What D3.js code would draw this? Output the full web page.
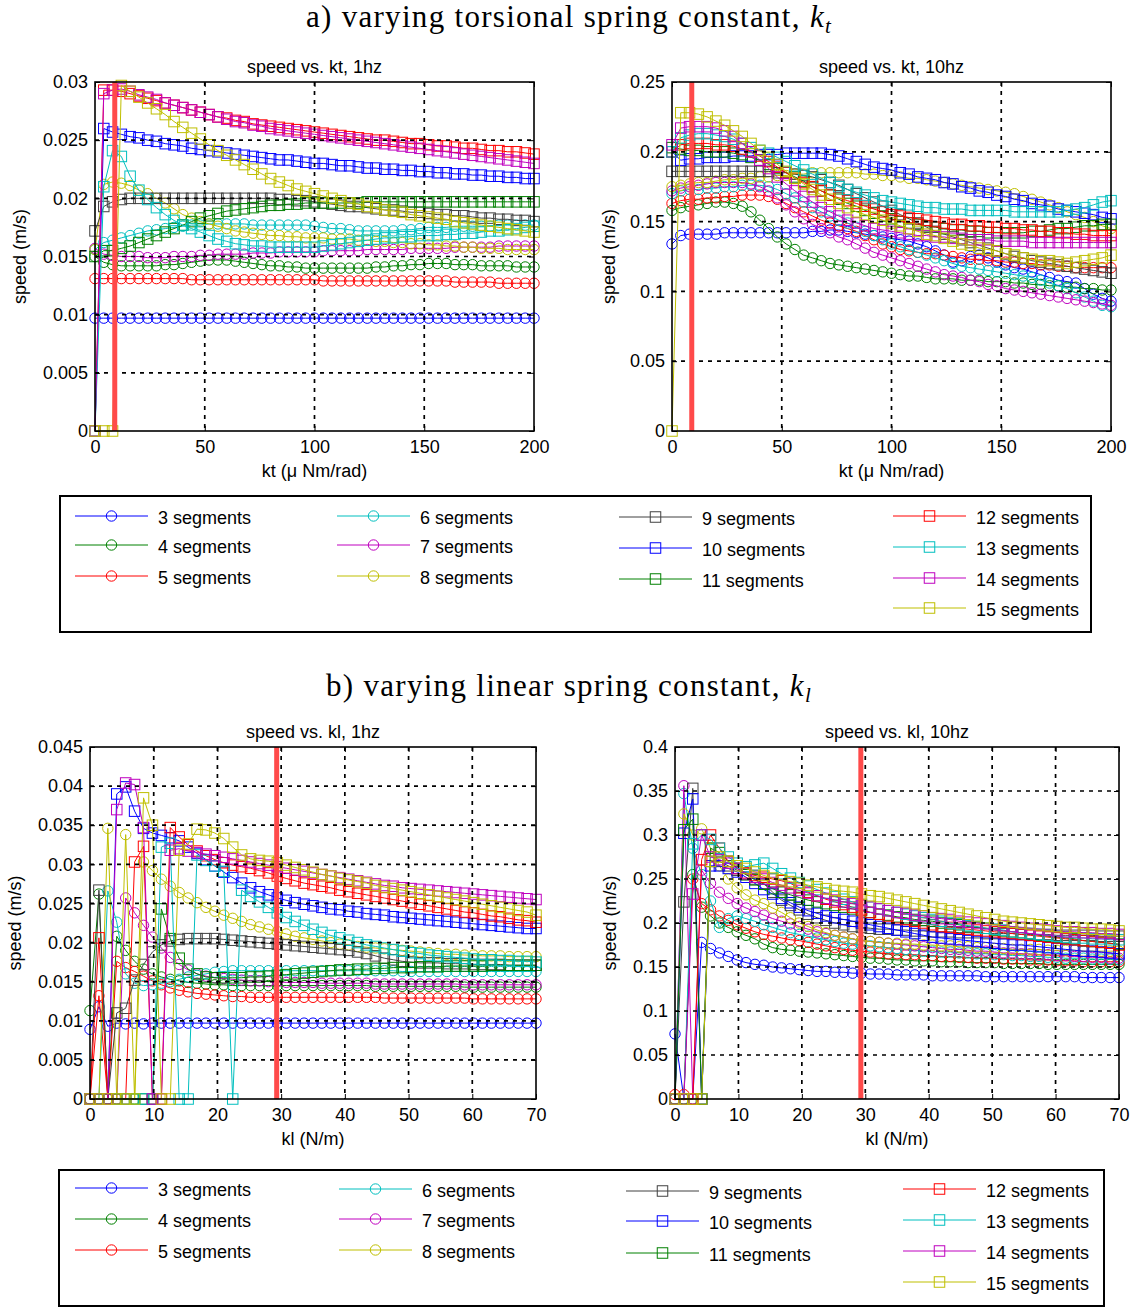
<!DOCTYPE html>
<html><head><meta charset="utf-8">
<script src="https://cdn.jsdelivr.net/npm/d3@7"></script>
<style>
body{margin:0;background:#fff}
svg{display:block}
text{font-family:"Liberation Sans",Arial,Helvetica,sans-serif;fill:#000}
.serif{font-family:"Liberation Serif","Times New Roman",serif}
</style>
</head><body>
<svg id="chart" width="1139" height="1308"></svg>
<script>
// ---------------- data ----------------
const kt = [0,4,8,12,16,20,24,28,32,36,40,44,48,52,56,60,64,68,72,76,80,84,88,92,96,100,104,108,112,116,120,124,128,132,136,140,144,148,152,156,160,164,168,172,176,180,184,188,192,196,200];
const kl = [0,1.4,2.8,4.2,5.6,7,8.4,9.8,11.2,12.6,14,15.4,16.8,18.2,19.6,21,22.4,23.8,25.2,26.6,28,29.4,30.8,32.2,33.6,35,36.4,37.8,39.2,40.6,42,43.4,44.8,46.2,47.6,49,50.4,51.8,53.2,54.6,56,57.4,58.8,60.2,61.6,63,64.4,65.8,67.2,68.6,70];
const seriesNames = ["3 segments","4 segments","5 segments","6 segments","7 segments","8 segments","9 segments","10 segments","11 segments","12 segments","13 segments","14 segments","15 segments"];

const ktTicks = [0,50,100,150,200];
const ktTickLabels = ["0","50","100","150","200"];
const klTicks = [0,10,20,30,40,50,60,70];
const klTickLabels = ["0","10","20","30","40","50","60","70"];
const tlYTicks = [0,0.005,0.01,0.015,0.02,0.025,0.03];
const tlYLabels = ["0","0.005","0.01","0.015","0.02","0.025","0.03"];
const trYTicks = [0,0.05,0.1,0.15,0.2,0.25];
const trYLabels = ["0","0.05","0.1","0.15","0.2","0.25"];
const blYTicks = [0,0.005,0.01,0.015,0.02,0.025,0.03,0.035,0.04,0.045];
const blYLabels = ["0","0.005","0.01","0.015","0.02","0.025","0.03","0.035","0.04","0.045"];
const brYTicks = [0,0.05,0.1,0.15,0.2,0.25,0.3,0.35,0.4];
const brYLabels = ["0","0.05","0.1","0.15","0.2","0.25","0.3","0.35","0.4"];
const ktMark = 9;
const klMark = 29.3;

// speed vs kt, 1 Hz
const tl3 = [.0097,.0097,.0097,.0097,.0097,.0097,.0097,.0097,.0097,.0097,
.0097,.0097,.0097,.0097,.0097,.0097,.0097,.0097,.0097,.0097,
.0097,.0097,.0097,.0097,.0097,.0097,.0097,.0097,.0097,.0097,
.0097,.0097,.0097,.0097,.0097,.0097,.0097,.0097,.0097,.0097,
.0097,.0097,.0097,.0097,.0097,.0097,.0097,.0097,.0097,.0097,.0097];
const tl4 = [.0150,.0145,.0143,.0142,.0142,.0142,.0142,.0142,.0143,.0143,
.0144,.0145,.0146,.0147,.0147,.0147,.0146,.0145,.0144,.0143,
.0142,.0142,.0141,.0141,.0140,.0140,.0140,.0140,.0140,.0140,
.0140,.0140,.0141,.0141,.0142,.0142,.0143,.0143,.0144,.0144,
.0144,.0143,.0143,.0143,.0142,.0142,.0142,.0142,.0141,.0141,.0141];
const tl5 = [.0131,.0131,.0131,.0131,.0131,.0131,.0131,.0131,.0131,.0131,
.0131,.0130,.0130,.0130,.0130,.0130,.0130,.0130,.0130,.0130,
.0130,.0130,.0130,.0130,.0130,.0130,.0129,.0129,.0129,.0129,
.0129,.0129,.0129,.0129,.0129,.0129,.0129,.0129,.0129,.0129,
.0129,.0128,.0128,.0128,.0128,.0128,.0127,.0127,.0127,.0127,.0127];
const tl6 = [.0156,.0162,.0164,.0166,.0168,.0170,.0172,.0173,.0174,.0175,
.0176,.0177,.0177,.0178,.0178,.0178,.0178,.0178,.0177,.0177,
.0177,.0177,.0177,.0177,.0177,.0176,.0175,.0174,.0174,.0173,
.0172,.0172,.0172,.0172,.0172,.0173,.0173,.0174,.0175,.0175,
.0175,.0176,.0176,.0176,.0176,.0176,.0177,.0177,.0177,.0177,.0177];
const tl7 = [.0157,.0152,.0151,.0150,.0150,.0150,.0149,.0149,.0149,.0150,
.0150,.0150,.0151,.0151,.0152,.0152,.0152,.0152,.0153,.0153,
.0153,.0154,.0154,.0154,.0154,.0154,.0155,.0155,.0155,.0155,
.0155,.0156,.0156,.0156,.0156,.0156,.0157,.0157,.0157,.0157,
.0157,.0158,.0158,.0158,.0158,.0158,.0159,.0159,.0159,.0159,.0159];
const tl8 = [.0156,.0212,.0214,.0213,.0211,.0207,.0204,.0200,.0196,.0191,
.0186,.0183,.0180,.0178,.0176,.0174,.0172,.0171,.0170,.0169,
.0168,.0168,.0167,.0167,.0166,.0166,.0166,.0165,.0165,.0165,
.0164,.0164,.0163,.0163,.0162,.0162,.0161,.0161,.0160,.0160,
.0159,.0159,.0158,.0158,.0157,.0157,.0157,.0156,.0156,.0156,.0156];
const tl9 = [.0172,.0193,.0197,.0199,.0200,.0200,.0200,.0200,.0200,.0200,
.0200,.0200,.0200,.0200,.0200,.0200,.0200,.0200,.0200,.0200,
.0200,.0199,.0199,.0198,.0198,.0197,.0196,.0195,.0194,.0193,
.0193,.0192,.0191,.0190,.0190,.0189,.0188,.0188,.0187,.0186,
.0186,.0185,.0185,.0184,.0183,.0183,.0182,.0182,.0181,.0181,.0180];
const tl10 = [0,.0260,.0257,.0255,.0253,.0252,.0250,.0249,.0247,.0246,
.0245,.0243,.0242,.0241,.0240,.0239,.0238,.0237,.0236,.0235,
.0234,.0233,.0233,.0232,.0231,.0230,.0230,.0229,.0228,.0228,
.0227,.0226,.0226,.0225,.0225,.0224,.0224,.0223,.0223,.0222,
.0222,.0221,.0221,.0220,.0220,.0219,.0219,.0218,.0218,.0217,.0217];
const tl11 = [.0150,.0155,.0155,.0157,.0159,.0162,.0165,.0168,.0171,.0174,
.0177,.0180,.0183,.0185,.0187,.0189,.0190,.0191,.0192,.0193,
.0194,.0194,.0195,.0195,.0196,.0196,.0196,.0196,.0196,.0196,
.0196,.0197,.0197,.0197,.0197,.0197,.0197,.0197,.0197,.0197,
.0197,.0197,.0197,.0197,.0197,.0197,.0197,.0197,.0197,.0197,.0197];
const tl12 = [0,.0293,.0293,.0292,.0290,.0288,.0286,.0284,.0282,.0280,
.0278,.0276,.0274,.0272,.0270,.0269,.0267,.0266,.0264,.0263,
.0262,.0261,.0260,.0259,.0258,.0257,.0256,.0255,.0254,.0253,
.0252,.0251,.0250,.0250,.0249,.0248,.0247,.0247,.0246,.0245,
.0245,.0244,.0243,.0243,.0242,.0241,.0241,.0240,.0240,.0239,.0238];
const tl13 = [0,.0210,.0241,.0236,.0219,.0207,.0199,.0192,.0186,.0181,
.0177,.0174,.0171,.0168,.0165,.0163,.0161,.0160,.0159,.0159,
.0158,.0158,.0158,.0158,.0158,.0158,.0159,.0160,.0161,.0162,
.0163,.0164,.0165,.0166,.0166,.0167,.0167,.0168,.0168,.0168,
.0169,.0169,.0170,.0170,.0171,.0172,.0172,.0173,.0174,.0175,.0176];
const tl14 = [0,.0290,.0293,.0294,.0292,.0289,.0287,.0285,.0282,.0280,
.0278,.0276,.0274,.0272,.0270,.0268,.0266,.0265,.0263,.0262,
.0260,.0259,.0258,.0257,.0256,.0255,.0254,.0253,.0252,.0251,
.0250,.0249,.0248,.0247,.0246,.0245,.0244,.0243,.0242,.0241,
.0240,.0239,.0238,.0237,.0236,.0235,.0234,.0233,.0232,.0231,.0230];
const tl15 = [0,0,0,.0297,.0292,.0287,.0282,.0277,.0272,.0266,
.0261,.0256,.0251,.0246,.0241,.0237,.0233,.0229,.0225,.0221,
.0217,.0214,.0211,.0208,.0206,.0204,.0202,.0200,.0198,.0196,
.0195,.0193,.0192,.0190,.0189,.0188,.0186,.0185,.0184,.0183,
.0182,.0180,.0179,.0178,.0177,.0176,.0175,.0174,.0173,.0172,.0171];

// speed vs kt, 10 Hz
const tr3 = [.134,.140,.141,.141,.141,.141,.142,.142,.142,.142,
.142,.142,.142,.142,.142,.142,.143,.143,.144,.144,
.143,.142,.141,.140,.139,.138,.137,.136,.134,.132,
.129,.126,.121,.122,.125,.126,.124,.121,.119,.117,
.116,.114,.112,.110,.108,.107,.106,.102,.098,.095,.093];
const tr4 = [.158,.160,.161,.162,.163,.164,.164,.163,.161,.157,
.151,.145,.139,.134,.130,.126,.124,.122,.120,.119,
.118,.117,.116,.115,.114,.113,.112,.111,.111,.110,
.109,.109,.109,.108,.108,.108,.107,.107,.107,.106,
.106,.105,.105,.104,.104,.103,.103,.102,.102,.101,.101];
const tr5 = [.163,.165,.166,.166,.167,.167,.168,.168,.169,.169,
.169,.168,.166,.163,.160,.157,.154,.151,.149,.147,
.145,.143,.140,.137,.134,.132,.130,.129,.128,.127,
.127,.126,.125,.124,.123,.123,.122,.122,.121,.121,
.120,.120,.119,.119,.118,.118,.117,.117,.117,.117,.117];
const tr6 = [.170,.172,.173,.173,.174,.174,.175,.175,.176,.176,
.176,.175,.173,.170,.167,.164,.160,.157,.154,.151,
.149,.146,.143,.140,.137,.134,.132,.130,.128,.126,
.124,.122,.120,.118,.117,.116,.115,.114,.113,.112,
.111,.110,.108,.106,.104,.102,.099,.096,.093,.090,.089];
const tr7 = [.172,.174,.175,.176,.177,.178,.178,.178,.178,.177,
.175,.172,.167,.162,.157,.152,.148,.145,.142,.139,
.137,.134,.131,.128,.126,.124,.122,.120,.118,.116,
.114,.112,.111,.110,.108,.107,.105,.104,.102,.101,
.100,.099,.098,.097,.096,.095,.094,.093,.092,.091,.090];
const tr8 = [.175,.176,.177,.178,.178,.179,.180,.180,.181,.181,
.182,.182,.183,.183,.184,.184,.185,.185,.185,.185,
.185,.185,.184,.184,.183,.183,.182,.181,.181,.180,
.179,.178,.177,.176,.175,.174,.173,.172,.171,.170,
.168,.166,.164,.162,.160,.157,.155,.153,.150,.147,.145];
const tr9 = [.186,.186,.186,.186,.186,.186,.186,.186,.186,.186,
.186,.186,.185,.185,.184,.183,.182,.180,.178,.176,
.173,.170,.167,.164,.161,.158,.155,.152,.149,.146,
.143,.141,.139,.137,.135,.133,.131,.129,.127,.125,
.124,.122,.121,.120,.119,.118,.117,.116,.115,.114,.113];
const tr10 = [.200,.194,.195,.195,.196,.196,.196,.197,.197,.197,
.198,.198,.198,.199,.199,.199,.199,.199,.198,.197,
.195,.193,.191,.189,.188,.187,.185,.184,.182,.181,
.180,.178,.177,.175,.174,.172,.171,.169,.168,.166,
.165,.163,.162,.161,.159,.158,.157,.156,.155,.153,.152];
const tr11 = [.203,.202,.201,.201,.200,.200,.200,.199,.198,.196,
.194,.191,.188,.185,.182,.179,.175,.172,.169,.166,
.163,.161,.158,.156,.154,.152,.150,.149,.148,.147,
.146,.145,.144,.144,.143,.143,.142,.142,.142,.142,
.142,.143,.143,.144,.145,.145,.146,.147,.147,.148,.148];
const tr12 = [.200,.205,.206,.206,.206,.205,.205,.204,.202,.200,
.197,.193,.189,.185,.181,.178,.175,.172,.169,.167,
.165,.163,.161,.159,.157,.155,.154,.153,.152,.151,
.150,.149,.148,.148,.147,.147,.146,.146,.145,.145,
.144,.144,.143,.143,.142,.142,.141,.141,.140,.140,.140];
const tr13 = [.200,.210,.212,.213,.213,.212,.211,.209,.206,.203,
.201,.199,.196,.193,.190,.187,.184,.181,.178,.175,
.173,.171,.169,.167,.165,.164,.163,.162,.161,.160,
.160,.159,.159,.159,.158,.158,.158,.158,.158,.157,
.157,.157,.157,.157,.157,.158,.159,.160,.162,.164,.165];
const tr14 = [.205,.217,.218,.218,.218,.217,.215,.211,.206,.200,
.194,.188,.182,.177,.172,.168,.164,.160,.157,.154,
.151,.149,.147,.145,.144,.143,.142,.141,.140,.140,
.139,.139,.138,.138,.137,.137,.137,.136,.136,.136,
.136,.135,.135,.135,.135,.135,.135,.135,.135,.135,.135];
const tr15 = [0,.228,.228,.227,.225,.222,.219,.215,.211,.206,
.201,.196,.191,.186,.181,.177,.173,.169,.166,.163,
.160,.157,.155,.153,.151,.149,.147,.145,.143,.141,
.140,.138,.136,.134,.133,.131,.130,.129,.127,.126,
.124,.123,.122,.122,.121,.120,.121,.122,.123,.124,.126];

// speed vs kl, 1 Hz
const bl3 = [.0089,.0118,.0093,.0097,.0096,.0097,.0096,.0097,.0097,.0097,
.0097,.0097,.0097,.0097,.0097,.0097,.0097,.0097,.0097,.0097,
.0097,.0097,.0097,.0097,.0097,.0097,.0097,.0097,.0097,.0097,
.0097,.0097,.0097,.0097,.0097,.0097,.0097,.0097,.0097,.0097,
.0097,.0097,.0097,.0097,.0097,.0097,.0097,.0097,.0097,.0097,.0097];
const bl4 = [.0113,.0262,0,.0208,.0190,.0176,.0166,.0160,.0156,.0153,
.0151,.0149,.0148,.0147,.0146,.0146,.0145,.0145,.0145,.0145,
.0145,.0145,.0145,.0145,.0145,.0145,.0145,.0145,.0145,.0145,
.0145,.0145,.0144,.0144,.0144,.0144,.0144,.0144,.0144,.0144,
.0144,.0144,.0143,.0143,.0143,.0143,.0143,.0143,.0143,.0143,.0143];
const bl5 = [0,.0132,0,.0176,.0168,.0163,.0157,.0151,.0146,.0142,
.0139,.0137,.0135,.0134,.0133,.0132,.0131,.0131,.0130,.0130,
.0130,.0130,.0130,.0130,.0130,.0130,.0130,.0130,.0130,.0130,
.0130,.0130,.0130,.0129,.0129,.0129,.0129,.0129,.0129,.0129,
.0129,.0129,.0129,.0128,.0128,.0128,.0128,.0128,.0128,.0128,.0128];
const bl6 = [0,0,.0266,.0226,.0160,.0148,.0145,.0146,.0148,.0150,
.0153,.0156,.0158,.0160,.0162,.0163,.0164,.0164,.0164,.0164,
.0164,.0164,.0164,.0164,.0164,.0164,.0164,.0164,.0164,.0164,
.0164,.0164,.0164,.0164,.0164,.0163,.0163,.0163,.0163,.0163,
.0163,.0163,.0163,.0163,.0163,.0163,.0163,.0163,.0163,.0163,.0163];
const bl7 = [0,0,0,0,.0257,.0238,.0222,.0207,.0193,.0181,
.0172,.0165,.0160,.0157,.0155,.0154,.0153,.0152,.0151,.0151,
.0150,.0150,.0149,.0149,.0149,.0149,.0148,.0148,.0148,.0148,
.0148,.0148,.0147,.0147,.0147,.0147,.0147,.0147,.0147,.0147,
.0147,.0147,.0146,.0146,.0146,.0146,.0146,.0146,.0146,.0146,.0146];
const bl8 = [0,0,.0346,0,.0338,0,.0303,.0292,.0281,.0272,
.0264,.0257,.0251,.0245,.0240,.0235,.0231,.0227,.0223,.0220,
.0217,.0214,.0211,.0208,.0206,.0204,.0202,.0200,.0198,.0197,
.0195,.0194,.0193,.0192,.0191,.0190,.0189,.0188,.0187,.0186,
.0185,.0185,.0184,.0184,.0183,.0183,.0183,.0182,.0182,.0182,.0182];
const bl9 = [0,.0267,0,.0110,.0116,.0152,.0172,.0188,.0197,.0202,
.0204,.0205,.0205,.0205,.0205,.0204,.0203,.0202,.0201,.0200,
.0199,.0198,.0197,.0196,.0195,.0194,.0193,.0192,.0191,.0190,
.0188,.0186,.0183,.0180,.0178,.0176,.0175,.0174,.0174,.0174,
.0173,.0173,.0173,.0172,.0172,.0172,.0172,.0171,.0171,.0171,.0171];
const bl10 = [0,0,0,.0390,.0399,.0368,.0346,.0340,.0337,.0334,
.0330,.0322,.0314,.0306,.0298,.0290,.0283,.0276,.0270,.0265,
.0261,.0257,.0254,.0251,.0249,.0247,.0245,.0243,.0242,.0240,
.0239,.0237,.0236,.0235,.0233,.0232,.0231,.0230,.0229,.0228,
.0227,.0226,.0225,.0224,.0223,.0222,.0221,.0220,.0219,.0218,.0218];
const bl11 = [0,0,0,0,0,0,0,0,.0243,.0205,
.0180,.0166,.0160,.0156,.0155,.0155,.0155,.0155,.0156,.0156,
.0157,.0158,.0159,.0160,.0161,.0162,.0163,.0164,.0165,.0165,
.0166,.0166,.0167,.0167,.0168,.0168,.0168,.0169,.0169,.0169,
.0170,.0170,.0170,.0170,.0170,.0171,.0171,.0171,.0171,.0171,.0171];
const bl12 = [0,.0206,0,0,0,.0303,.0323,0,0,.0347,
.0335,.0325,.0317,.0311,.0306,.0302,.0299,.0297,.0295,.0292,
.0289,.0285,.0282,.0279,.0276,.0274,.0272,.0270,.0267,.0265,
.0263,.0261,.0259,.0257,.0255,.0253,.0251,.0249,.0247,.0245,
.0243,.0241,.0239,.0238,.0236,.0234,.0233,.0231,.0229,.0228,.0226];
const bl13 = [0,0,0,0,0,0,0,0,.0322,.0327,
0,0,.0312,.0305,.0298,.0291,0,.0267,.0259,.0252,
.0245,.0238,.0232,.0227,.0222,.0217,.0213,.0209,.0206,.0203,
.0200,.0197,.0195,.0193,.0191,.0189,.0187,.0186,.0184,.0183,
.0182,.0181,.0180,.0179,.0178,.0178,.0177,.0177,.0176,.0176,.0175];
const bl14 = [0,0,0,.0370,.0404,.0402,.0347,0,0,.0318,
.0320,.0317,.0315,.0313,.0311,.0309,.0307,.0305,.0303,.0301,
.0299,.0297,.0295,.0293,.0291,.0289,.0287,.0285,.0283,.0281,
.0279,.0277,.0275,.0273,.0272,.0270,.0269,.0268,.0267,.0266,
.0265,.0264,.0263,.0262,.0261,.0260,.0259,.0258,.0257,.0256,.0255];
const bl15 = [0,0,0,0,0,0,.0385,.0350,0,0,
.0318,.0326,.0345,.0344,.0340,.0333,.0322,.0312,.0307,.0305,
.0304,.0302,.0299,.0296,.0293,.0290,.0287,.0285,.0282,.0280,
.0278,.0276,.0273,.0271,.0269,.0267,.0265,.0263,.0261,.0259,
.0257,.0255,.0253,.0251,.0249,.0247,.0245,.0243,.0241,.0239,.0235];

// speed vs kl, 10 Hz
const br3 = [.074,0,0,.178,.171,.166,.162,.158,.155,.153,
.152,.150,.149,.148,.147,.146,.145,.145,.144,.144,
.143,.143,.142,.142,.142,.141,.141,.141,.141,.140,
.140,.140,.140,.140,.140,.139,.139,.139,.139,.139,
.139,.139,.139,.139,.139,.139,.138,.138,.138,.138,.138];
const br4 = [0,0,.255,.218,.208,.200,.195,.190,.186,.182,
.176,.172,.170,.169,.168,.167,.166,.165,.164,.163,
.162,.161,.160,.160,.159,.158,.158,.157,.157,.157,
.156,.156,.156,.155,.155,.155,.155,.154,.154,.154,
.154,.154,.153,.153,.153,.153,.153,.153,.153,.153,.153];
const br5 = [.005,.005,.250,.222,.215,.208,.203,.198,.194,.190,
.187,.185,.183,.181,.180,.178,.176,.174,.172,.170,
.169,.168,.167,.166,.165,.165,.164,.164,.163,.163,
.162,.162,.161,.161,.160,.160,.160,.159,.159,.159,
.158,.158,.158,.157,.157,.157,.156,.156,.156,.156,.156];
const br6 = [0,.347,.285,.255,.225,.195,.205,.208,.205,.202,
.198,.195,.192,.189,.187,.185,.183,.181,.179,.177,
.176,.175,.174,.173,.172,.171,.170,.169,.168,.168,
.167,.167,.166,.166,.165,.165,.164,.164,.163,.163,
.162,.162,.161,.161,.160,.160,.160,.159,.159,.159,.158];
const br7 = [0,.356,0,.260,.245,.235,.228,.222,.217,.213,
.209,.205,.202,.199,.196,.193,.190,.188,.186,.184,
.182,.180,.179,.178,.177,.176,.175,.174,.173,.172,
.171,.170,.170,.169,.168,.168,.167,.166,.166,.165,
.165,.164,.164,.163,.163,.162,.162,.161,.161,.160,.160];
const br8 = [0,.324,.300,.307,.285,.265,.250,.240,.232,.226,
.222,.217,.212,.206,.200,.196,.192,.189,.186,.184,
.182,.180,.179,.178,.177,.177,.176,.176,.175,.175,
.174,.174,.173,.173,.172,.172,.171,.171,.170,.170,
.170,.170,.169,.169,.169,.169,.168,.168,.168,.168,.168];
const br9 = [0,.224,.353,0,.270,.270,.265,.260,.255,.250,
.245,.235,.226,.220,.215,.210,.206,.203,.200,.198,
.196,.195,.194,.193,.193,.192,.192,.191,.191,.190,
.190,.190,.189,.189,.189,.188,.188,.188,.188,.187,
.187,.187,.187,.186,.186,.186,.186,.186,.185,.185,.185];
const br10 = [0,.302,.341,0,.265,.265,.262,.258,.252,.245,
.238,.233,.228,.223,.218,.214,.211,.208,.206,.204,
.202,.200,.198,.196,.194,.192,.190,.188,.186,.184,
.183,.182,.181,.180,.179,.178,.177,.176,.175,.175,
.174,.173,.172,.171,.170,.169,.168,.168,.167,.166,.165];
const br11 = [0,.306,.318,0,.285,.280,.270,.262,.255,.249,
.244,.239,.235,.232,.229,.226,.224,.222,.220,.218,
.216,.214,.212,.210,.209,.207,.206,.204,.203,.202,
.200,.199,.198,.196,.195,.194,.192,.191,.190,.189,
.188,.186,.185,.184,.183,.182,.180,.179,.178,.177,.176];
const br12 = [0,0,0,.272,.300,.285,.270,.262,.257,.254,
.252,.250,.248,.245,.240,.235,.231,.227,.224,.221,
.218,.215,.212,.210,.208,.206,.204,.202,.200,.198,
.196,.195,.194,.193,.192,.191,.190,.189,.188,.187,
.186,.185,.184,.183,.182,.181,.180,.179,.178,.177,.175];
const br13 = [0,0,.290,.300,.295,.285,.275,.268,.264,.266,
.268,.262,.256,.251,.246,.242,.238,.234,.230,.227,
.224,.221,.218,.216,.214,.212,.210,.208,.206,.204,
.202,.200,.199,.197,.196,.194,.193,.192,.190,.189,
.188,.187,.186,.185,.184,.183,.183,.182,.182,.181,.181];
const br14 = [0,0,.233,.300,.275,.272,.268,.262,.256,.252,
.250,.246,.243,.240,.237,.234,.231,.228,.226,.224,
.222,.220,.218,.216,.214,.212,.211,.209,.208,.206,
.205,.204,.202,.201,.200,.199,.198,.197,.196,.195,
.194,.193,.192,.191,.190,.190,.189,.189,.188,.188,.187];
const br15 = [0,0,0,0,.270,.275,.270,.265,.262,.258,
.254,.251,.249,.247,.245,.243,.241,.239,.237,.236,
.235,.233,.231,.230,.228,.226,.224,.222,.220,.218,
.216,.214,.212,.210,.208,.206,.204,.202,.201,.200,
.199,.198,.197,.196,.195,.195,.194,.193,.193,.192,.191];

// ---------------- styles ----------------
const colors = ["#0000ff","#008000","#ff0000","#00bfbf","#bf00bf","#bfbf00","#404040","#0000ff","#008000","#ff0000","#00bfbf","#bf00bf","#bfbf00"];
const shapes = ["circle","circle","circle","circle","circle","circle","square","square","square","square","square","square","square"];
const markR = 5.2, markS = 10.5;
const FS = 18;

const svg = d3.select("#chart");

const panels = [
  {box:[95,534,82,431], xs:kt, xDom:[0,200], yDom:[0,0.03], xt:ktTicks, xtl:ktTickLabels, yt:tlYTicks, ytl:tlYLabels,
   title:"speed vs. kt, 1hz", xlab:"kt (\u03bc Nm/rad)", ylabX:20, mark:ktMark, data:[tl3,tl4,tl5,tl6,tl7,tl8,tl9,tl10,tl11,tl12,tl13,tl14,tl15]},
  {box:[672,1111,82,431], xs:kt, xDom:[0,200], yDom:[0,0.25], xt:ktTicks, xtl:ktTickLabels, yt:trYTicks, ytl:trYLabels,
   title:"speed vs. kt, 10hz", xlab:"kt (\u03bc Nm/rad)", ylabX:609, mark:ktMark, data:[tr3,tr4,tr5,tr6,tr7,tr8,tr9,tr10,tr11,tr12,tr13,tr14,tr15]},
  {box:[90,536,747,1099], xs:kl, xDom:[0,70], yDom:[0,0.045], xt:klTicks, xtl:klTickLabels, yt:blYTicks, ytl:blYLabels,
   title:"speed vs. kl, 1hz", xlab:"kl (N/m)", ylabX:15, mark:klMark, data:[bl3,bl4,bl5,bl6,bl7,bl8,bl9,bl10,bl11,bl12,bl13,bl14,bl15]},
  {box:[675,1119,747,1099], xs:kl, xDom:[0,70], yDom:[0,0.4], xt:klTicks, xtl:klTickLabels, yt:brYTicks, ytl:brYLabels,
   title:"speed vs. kl, 10hz", xlab:"kl (N/m)", ylabX:610, mark:klMark, data:[br3,br4,br5,br6,br7,br8,br9,br10,br11,br12,br13,br14,br15]}
];

function drawMarker(g, shape, cx, cy, color) {
  if (shape === "circle") {
    g.append("circle").attr("cx",cx).attr("cy",cy).attr("r",markR)
      .attr("fill","none").attr("stroke",color).attr("stroke-width",1);
  } else {
    g.append("rect").attr("x",cx-markS/2).attr("y",cy-markS/2).attr("width",markS).attr("height",markS)
      .attr("fill","none").attr("stroke",color).attr("stroke-width",1);
  }
}

panels.forEach(p => {
  const [L,R,T,B] = p.box;
  const x = d3.scaleLinear().domain(p.xDom).range([L,R]);
  const y = d3.scaleLinear().domain(p.yDom).range([B,T]);
  const g = svg.append("g");

  // series
  p.data.forEach((vals,k) => {
    const pts = p.xs.map((xv,i) => [xv, vals[i]]);
    g.append("path").datum(pts)
      .attr("d", d3.line().x(d => x(d[0])).y(d => y(d[1])))
      .attr("fill","none").attr("stroke",colors[k]).attr("stroke-width",1);
    const mg = g.append("g");
    if (shapes[k] === "circle") {
      mg.selectAll("circle").data(pts).join("circle")
        .attr("cx", d => x(d[0])).attr("cy", d => y(d[1])).attr("r", markR)
        .attr("fill","none").attr("stroke",colors[k]).attr("stroke-width",1);
    } else {
      mg.selectAll("rect").data(pts).join("rect")
        .attr("x", d => x(d[0]) - markS/2).attr("y", d => y(d[1]) - markS/2)
        .attr("width", markS).attr("height", markS)
        .attr("fill","none").attr("stroke",colors[k]).attr("stroke-width",1);
    }
  });

  // grid (dotted, on top like the original)
  const gx = p.xt.filter(v => v > p.xDom[0] && v < p.xDom[1]);
  const gy = p.yt.filter(v => v > p.yDom[0] && v < p.yDom[1]);
  g.selectAll(".gv").data(gx).join("line")
    .attr("x1", d => x(d)).attr("x2", d => x(d)).attr("y1", T).attr("y2", B)
    .attr("stroke","#000").attr("stroke-width",1.7).attr("stroke-dasharray","4,5");
  g.selectAll(".gh").data(gy).join("line")
    .attr("x1", L).attr("x2", R).attr("y1", d => y(d)).attr("y2", d => y(d))
    .attr("stroke","#000").attr("stroke-width",1.7).attr("stroke-dasharray","4,5");

  // red marker line
  g.append("line").attr("x1", x(p.mark)).attr("x2", x(p.mark)).attr("y1", T).attr("y2", B)
    .attr("stroke","#ff4a4a").attr("stroke-width",5);

  // axes
  const ax = g.append("g").attr("transform",`translate(0,${B})`)
    .call(d3.axisBottom(x).tickValues(p.xt).tickFormat((d,i) => p.xtl[i]).tickSizeInner(-5).tickSizeOuter(0).tickPadding(9));
  const ay = g.append("g").attr("transform",`translate(${L},0)`)
    .call(d3.axisLeft(y).tickValues(p.yt).tickFormat((d,i) => p.ytl[i]).tickSizeInner(-5).tickSizeOuter(0).tickPadding(7));
  const axT = g.append("g").attr("transform",`translate(0,${T})`)
    .call(d3.axisTop(x).tickValues(p.xt).tickFormat("").tickSizeInner(-5).tickSizeOuter(0));
  const ayR = g.append("g").attr("transform",`translate(${R},0)`)
    .call(d3.axisRight(y).tickValues(p.yt).tickFormat("").tickSizeInner(-5).tickSizeOuter(0));
  [ax,ay,axT,ayR].forEach(a => {
    a.select(".domain").remove();
    a.selectAll("line").attr("stroke","#000").attr("stroke-width",1);
    a.selectAll("text").attr("font-size",FS).attr("font-family",null).attr("fill","#000");
  });
  g.append("rect").attr("x",L).attr("y",T).attr("width",R-L).attr("height",B-T)
    .attr("fill","none").attr("stroke","#000").attr("stroke-width",1.6);

  // labels
  g.append("text").attr("x",(L+R)/2).attr("y",T-9).attr("text-anchor","middle").attr("font-size",FS).text(p.title);
  g.append("text").attr("x",(L+R)/2).attr("y",B+46).attr("text-anchor","middle").attr("font-size",FS).text(p.xlab);
  g.append("text").attr("transform",`translate(${p.ylabX},${(T+B)/2}) rotate(-90)`)
    .attr("text-anchor","middle").attr("dy","0.35em").attr("font-size",FS).text("speed (m/s)");
});

// main headings
function heading(yPos, main, sub) {
  const t = svg.append("text").attr("class","serif").attr("x",569).attr("y",yPos)
    .attr("text-anchor","middle").attr("font-size",31).attr("letter-spacing","1.3px");
  t.append("tspan").text(main);
  t.append("tspan").attr("font-style","italic").text("k");
  t.append("tspan").attr("font-style","italic").attr("font-size",21).attr("dy",6).text(sub);
}
heading(27, "a) varying torsional spring constant, ", "t");
heading(696, "b) varying linear spring constant, ", "l");

// legends
const legends = [
  {box:[60,496,1091,632], cols:[{x:75, ys:[516,545,576]},{x:337, ys:[516,545,576]},{x:619, ys:[517,548,579]},{x:893, ys:[516,547,578,608]}]},
  {box:[59,1170,1104,1306], cols:[{x:75, ys:[1188,1219,1250]},{x:339, ys:[1189,1219,1250]},{x:626, ys:[1191,1221,1253]},{x:903, ys:[1189,1220,1251,1282]}]}
];
legends.forEach(lg => {
  const g = svg.append("g");
  g.append("rect").attr("x",lg.box[0]).attr("y",lg.box[1]).attr("width",lg.box[2]-lg.box[0]).attr("height",lg.box[3]-lg.box[1])
    .attr("fill","#fff").attr("stroke","#000").attr("stroke-width",2);
  let k = 0;
  lg.cols.forEach(c => {
    c.ys.forEach(yy => {
      g.append("line").attr("x1",c.x).attr("x2",c.x+73).attr("y1",yy).attr("y2",yy)
        .attr("stroke",colors[k]).attr("stroke-width",1);
      drawMarker(g, shapes[k], c.x+36.5, yy, colors[k]);
      g.append("text").attr("x",c.x+83).attr("y",yy+2).attr("dy","0.35em").attr("font-size",FS).text(seriesNames[k]);
      k++;
    });
  });
});
</script>
</body></html>
